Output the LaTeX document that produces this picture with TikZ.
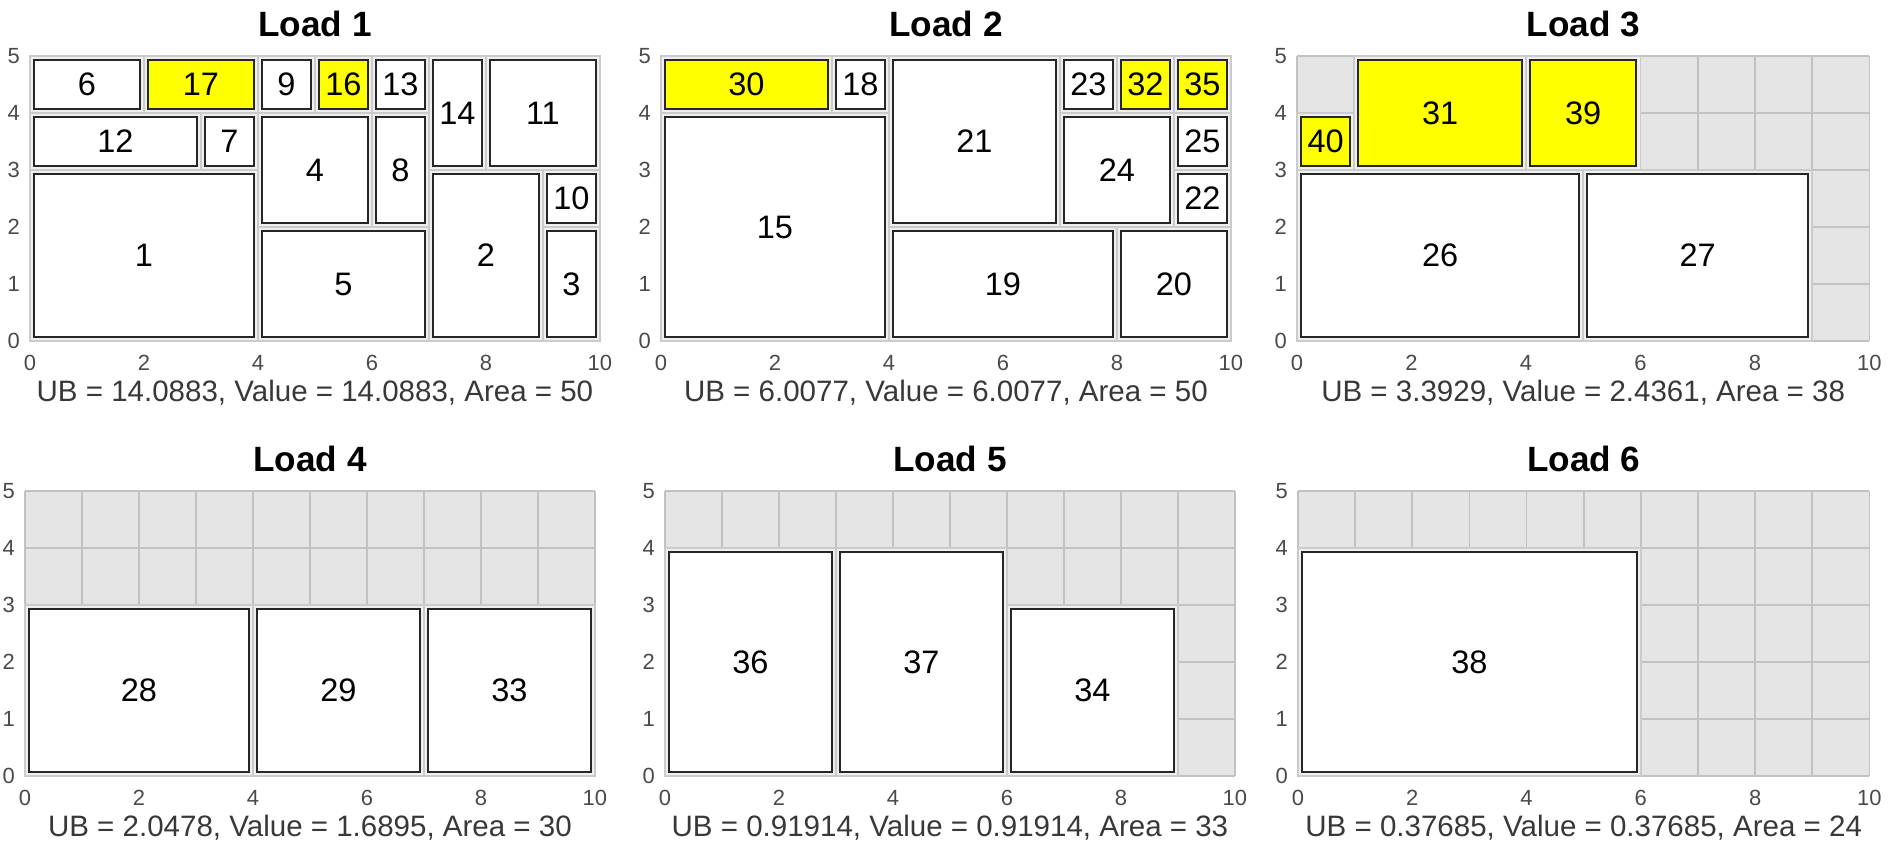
\documentclass[tikz,border=0pt]{standalone}
\usepackage{fontspec}
\setmainfont{Liberation Sans}
\usepackage{tikz}
\usetikzlibrary{calc}
\definecolor{axbg}{HTML}{E5E5E5}
\definecolor{gridgray}{HTML}{C2C2C2}
\definecolor{cellgray}{HTML}{EFEFEF}
\definecolor{celledge}{HTML}{CBCBCB}
\definecolor{boxblack}{HTML}{262626}
\definecolor{capgray}{HTML}{383838}
\definecolor{tickgray}{HTML}{4A4A4A}
\definecolor{hiyellow}{HTML}{FFFF00}
\tikzset{
  gridline/.style={draw=gridgray, line width=1pt},
  cellback/.style={fill=cellgray, draw=celledge, line width=1pt},
  boxline/.style={draw=boxblack, line width=1.1pt},
  num/.style={font=\fontsize{18.5}{21}\selectfont, text=black},
  ttl/.style={font=\fontsize{20}{24}\selectfont\bfseries},
  captext/.style={font=\fontsize{16.8}{19}\selectfont, text=capgray},
  tick/.style={font=\fontsize{12.5}{14}\selectfont, text=tickgray, inner sep=1pt},
}
% axes, grid, title and caption of one load
\newcommand{\plotframe}[3]{%
  \fill[axbg] (0,0) rectangle (10,5);
  \draw[gridline,step=1] (0,0) grid (10,5);
  \foreach \t in {0,2,...,10} \node[tick] (#1x\t) at (\t,-0.38) {\t};
  \foreach \t in {0,...,5} \node[tick,anchor=east] (#1y\t) at (-0.14,\t) {\t};
  \node[ttl] (#1title) at (5,5.56) {#2};
  \node[captext] (#1cap) at (5,-0.9) {#3};
}
% one packed item: x0,y0,x1,y1,fill,number
\newcommand{\packbox}[6]{%
  \draw[cellback] (#1,#2) rectangle (#3,#4);
  \draw[boxline,fill=#5] ($(#1,#2)+(.07,.07)$) rectangle ($(#3,#4)-(.07,.07)$);
  \node[num] (b#6) at ($(#1,#2)!.5!(#3,#4)$) {#6};
}

\begin{document}
\begin{tikzpicture}[x=0.02cm,y=0.02cm]
\useasboundingbox (0,0) rectangle (1898,844);

% Load 1
\begin{scope}[shift={(30,503)},x=1.14cm,y=1.14cm]
\plotframe{pa}{Load 1}{UB = 14.0883, Value = 14.0883, Area = 50}
\packbox{0}{4}{2}{5}{white}{6}
\packbox{2}{4}{4}{5}{hiyellow}{17}
\packbox{4}{4}{5}{5}{white}{9}
\packbox{5}{4}{6}{5}{hiyellow}{16}
\packbox{6}{4}{7}{5}{white}{13}
\packbox{7}{3}{8}{5}{white}{14}
\packbox{8}{3}{10}{5}{white}{11}
\packbox{0}{3}{3}{4}{white}{12}
\packbox{3}{3}{4}{4}{white}{7}
\packbox{4}{2}{6}{4}{white}{4}
\packbox{6}{2}{7}{4}{white}{8}
\packbox{0}{0}{4}{3}{white}{1}
\packbox{4}{0}{7}{2}{white}{5}
\packbox{7}{0}{9}{3}{white}{2}
\packbox{9}{2}{10}{3}{white}{10}
\packbox{9}{0}{10}{2}{white}{3}
\end{scope}

% Load 2
\begin{scope}[shift={(661,503)},x=1.14cm,y=1.14cm]
\plotframe{pb}{Load 2}{UB = 6.0077, Value = 6.0077, Area = 50}
\packbox{0}{4}{3}{5}{hiyellow}{30}
\packbox{3}{4}{4}{5}{white}{18}
\packbox{4}{2}{7}{5}{white}{21}
\packbox{7}{4}{8}{5}{white}{23}
\packbox{8}{4}{9}{5}{hiyellow}{32}
\packbox{9}{4}{10}{5}{hiyellow}{35}
\packbox{0}{0}{4}{4}{white}{15}
\packbox{7}{2}{9}{4}{white}{24}
\packbox{9}{3}{10}{4}{white}{25}
\packbox{9}{2}{10}{3}{white}{22}
\packbox{4}{0}{8}{2}{white}{19}
\packbox{8}{0}{10}{2}{white}{20}
\end{scope}

% Load 3
\begin{scope}[shift={(1297,503)},x=1.145cm,y=1.14cm]
\plotframe{pc}{Load 3}{UB = 3.3929, Value = 2.4361, Area = 38}
\packbox{0}{3}{1}{4}{hiyellow}{40}
\packbox{1}{3}{4}{5}{hiyellow}{31}
\packbox{4}{3}{6}{5}{hiyellow}{39}
\packbox{0}{0}{5}{3}{white}{26}
\packbox{5}{0}{9}{3}{white}{27}
\end{scope}

% Load 4
\begin{scope}[shift={(25,68)},x=1.14cm,y=1.14cm]
\plotframe{pd}{Load 4}{UB = 2.0478, Value = 1.6895, Area = 30}
\packbox{0}{0}{4}{3}{white}{28}
\packbox{4}{0}{7}{3}{white}{29}
\packbox{7}{0}{10}{3}{white}{33}
\end{scope}

% Load 5
\begin{scope}[shift={(665,68)},x=1.14cm,y=1.14cm]
\plotframe{pe}{Load 5}{UB = 0.91914, Value = 0.91914, Area = 33}
\packbox{0}{0}{3}{4}{white}{36}
\packbox{3}{0}{6}{4}{white}{37}
\packbox{6}{0}{9}{3}{white}{34}
\end{scope}

% Load 6
\begin{scope}[shift={(1298,68)},x=1.143cm,y=1.14cm]
\plotframe{pf}{Load 6}{UB = 0.37685, Value = 0.37685, Area = 24}
\packbox{0}{0}{6}{4}{white}{38}
\end{scope}
\end{tikzpicture}
\end{document}
